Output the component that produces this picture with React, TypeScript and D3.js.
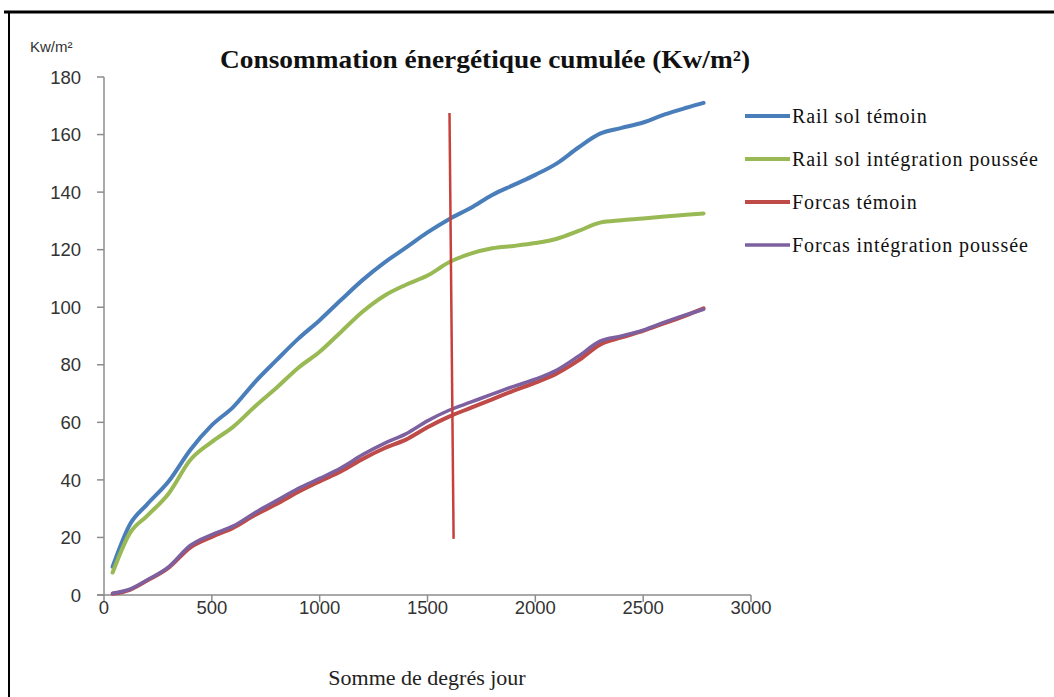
import { useEffect } from "react";
import { scaleLinear, line, curveMonotoneX } from "d3";

// degree-days sampled along the curves
const degreeDays = [
  40, 120, 200, 300, 400, 500, 600, 700, 800, 900, 1000, 1100, 1200, 1300, 1400,
  1500, 1600, 1700, 1800, 1900, 2000, 2100, 2200, 2300, 2400, 2500, 2600, 2700, 2780,
];

const railTemoin = [
  9.8, 24.5, 31.5, 39.5, 50.4, 59, 65.4, 74, 81.6, 89, 95.5, 102.6, 109.5, 115.5, 120.7,
  126, 130.6, 134.5, 139, 142.5, 146, 150, 155.5, 160.3, 162.3, 164.2, 167, 169.3, 171,
];
const railIntegration = [
  7.8, 21.5, 27.5, 35.3, 46.9, 53.2, 58.5, 65.5, 72, 78.9, 84.5, 91.5, 98.5, 104, 107.8,
  111, 115.6, 118.6, 120.5, 121.3, 122.3, 123.8, 126.5, 129.4, 130.2, 130.8, 131.5, 132.1, 132.6,
];
const forcasTemoin = [
  0.4, 1.8, 5, 9.5, 16.5, 20.2, 23.4, 27.8, 31.6, 35.8, 39.5, 43, 47.3, 51, 54,
  58.3, 62, 65, 68, 71, 73.8, 77, 81.5, 87, 89.5, 91.8, 94.5, 97.2, 99.6,
];
const forcasIntegration = [
  0.6, 2.0, 5.2, 9.8, 17.2, 21, 24, 28.6, 32.8, 37, 40.5, 44.2, 48.8, 52.7, 56,
  60.5, 64.2, 67, 69.8, 72.5, 75, 78.2, 83, 88.2, 90, 92, 94.8, 97.4, 99.3,
];

const seriesNames = [
  "Rail sol témoin",
  "Rail sol intégration poussée",
  "Forcas témoin",
  "Forcas intégration poussée",
];
const seriesValues = [railTemoin, railIntegration, forcasTemoin, forcasIntegration];
const seriesColors = ["#4a7ebb", "#98b954", "#be4b48", "#7d60a0"];
const seriesWidths = [4, 4, 4, 3.5];

const xTicks = [0, 500, 1000, 1500, 2000, 2500, 3000];
const yTicks = [0, 20, 40, 60, 80, 100, 120, 140, 160, 180];

// hand-drawn vertical marker (slightly slanted)
const markerLine: [number, number][] = [
  [1602, 167.5],
  [1621, 19.5],
];

export default function App() {
  useEffect(() => {
    document.body.style.margin = "0";
  }, []);

  const width = 1054;
  const height = 697;

  const x = scaleLinear().domain([0, 3000]).range([104, 751]);
  const y = scaleLinear().domain([0, 180]).range([595, 77]);

  const path = line<[number, number]>()
    .x((d) => x(d[0]))
    .y((d) => y(d[1]))
    .curve(curveMonotoneX);

  const straight = line<[number, number]>()
    .x((d) => x(d[0]))
    .y((d) => y(d[1]));

  const axisColor = "#8c8c8c";
  const legendRows = [116, 159, 202, 245];

  return (
    <svg width={width} height={height} style={{ display: "block", background: "#fff" }}>
      {/* frame */}
      <line x1={4} y1={12} x2={width} y2={12} stroke="#000" strokeWidth={3} />
      <line x1={9} y1={11} x2={9} y2={height} stroke="#000" strokeWidth={2} />

      <text
        x={220}
        y={68}
        fontFamily="'Liberation Serif', serif"
        fontSize={25}
        fontWeight="bold"
        fill="#111"
        textLength={530}
        lengthAdjust="spacingAndGlyphs"
      >
        Consommation énergétique  cumulée (Kw/m²)
      </text>

      <text x={30} y={52} fontFamily="'Liberation Sans', sans-serif" fontSize={15} fill="#333">
        Kw/m²
      </text>

      {/* y axis */}
      <line x1={104} y1={y(180)} x2={104} y2={y(0)} stroke={axisColor} strokeWidth={1.5} />
      {yTicks.map((t) => (
        <g key={t}>
          <line x1={97} x2={104} y1={y(t)} y2={y(t)} stroke={axisColor} strokeWidth={1.5} />
          <text
            x={81}
            y={y(t)}
            dy="0.36em"
            textAnchor="end"
            fontFamily="'Liberation Sans', sans-serif"
            fontSize={18.5}
            fill="#333"
          >
            {t}
          </text>
        </g>
      ))}

      {/* x axis */}
      <line x1={97} y1={y(0)} x2={751} y2={y(0)} stroke={axisColor} strokeWidth={1.5} />
      {xTicks.map((t) => (
        <g key={t}>
          <line x1={x(t)} x2={x(t)} y1={y(0)} y2={y(0) + 7} stroke={axisColor} strokeWidth={1.5} />
          <text
            x={x(t)}
            y={614}
            textAnchor="middle"
            fontFamily="'Liberation Sans', sans-serif"
            fontSize={18.5}
            fill="#333"
          >
            {t}
          </text>
        </g>
      ))}

      <text
        x={427}
        y={685}
        textAnchor="middle"
        fontFamily="'Liberation Serif', serif"
        fontSize={22}
        fill="#222"
      >
        Somme de degrés jour
      </text>

      {/* series */}
      {seriesValues.map((vals, i) => (
        <path
          key={seriesNames[i]}
          d={path(degreeDays.map((d, j) => [d, vals[j]] as [number, number])) || ""}
          fill="none"
          stroke={seriesColors[i]}
          strokeWidth={seriesWidths[i]}
          strokeLinejoin="round"
          strokeLinecap="round"
        />
      ))}

      <path d={straight(markerLine) || ""} stroke="#c8403c" strokeWidth={2.5} fill="none" />

      {/* legend */}
      {seriesNames.map((name, i) => (
        <g key={name}>
          <line
            x1={745}
            x2={790}
            y1={legendRows[i]}
            y2={legendRows[i]}
            stroke={seriesColors[i]}
            strokeWidth={seriesWidths[i]}
          />
          <text
            x={792}
            y={legendRows[i]}
            dy="0.33em"
            fontFamily="'Liberation Serif', serif"
            fontSize={20}
            letterSpacing={0.9}
            fill="#111"
          >
            {name}
          </text>
        </g>
      ))}
    </svg>
  );
}
